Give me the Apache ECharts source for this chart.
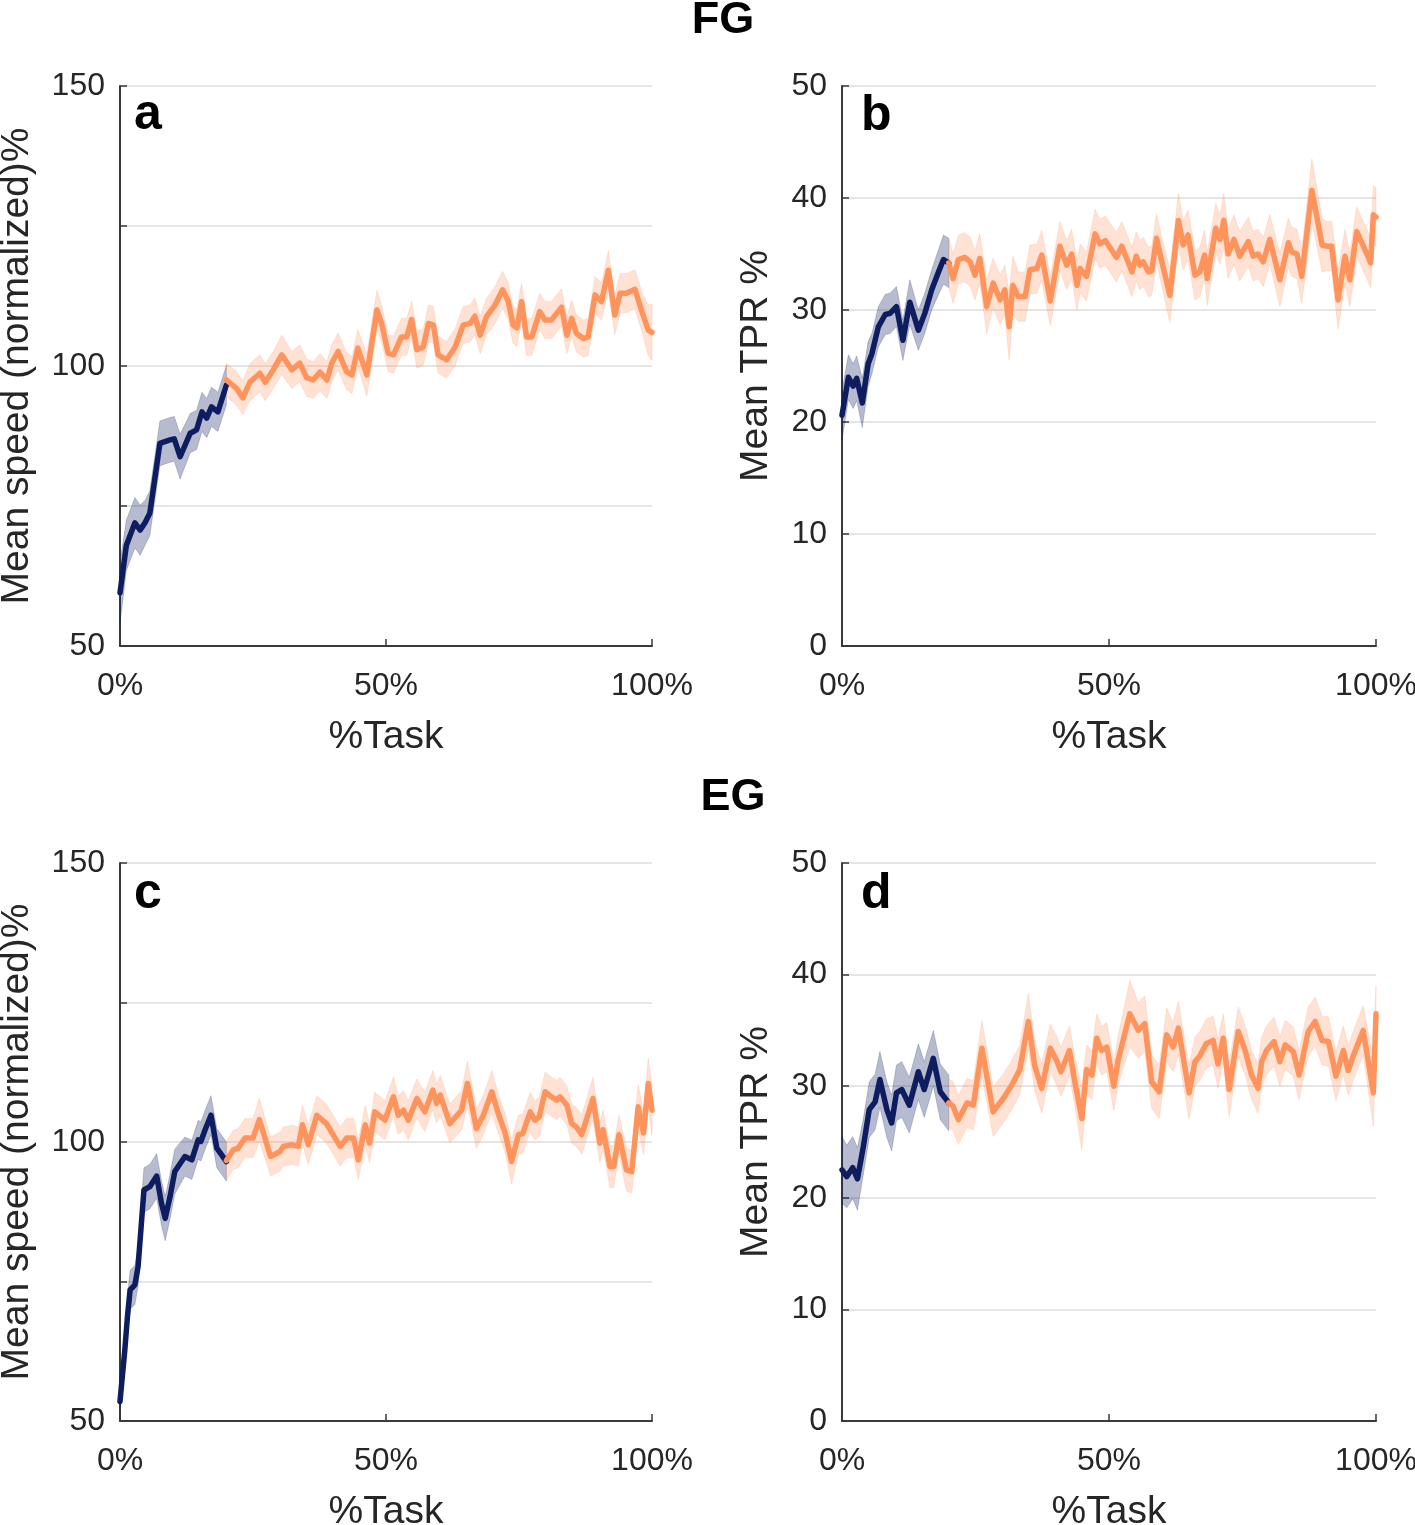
<!DOCTYPE html>
<html>
<head>
<meta charset="utf-8">
<script src="https://cdn.jsdelivr.net/npm/echarts/dist/echarts.min.js"></script>
<style>
    html, body { margin: 0; padding: 0; background: #fff; }
    #chart { width: 1415px; height: 1525px; }
</style>
</head>
<body>
<div id="chart"></div>
<script>
// ---- data (x = % of task, y = mean, s = half width of shaded band) ----
// panel a : FG, mean speed
const aDarkX = [0, 1.2, 2.8, 3.8, 4.7, 5.6, 7.5, 9.4, 10.2, 11.3, 13.2, 14.4, 15.4, 16.3, 17.2, 18.4, 20];
const aDarkY = [59.5, 68, 72, 70.7, 72, 73.7, 86.2, 86.8, 87, 83.8, 88, 88.6, 91.8, 90.7, 92.7, 91.8, 96.6];
const aDarkS = [5.5, 4.5, 4.5, 4.5, 4, 4, 4, 4, 4, 4, 3.5, 3.5, 3.5, 3.5, 3.5, 3.5, 3.5];
const aOrangeX = [20, 21.9, 23.1, 24.4, 26.3, 27.3, 28.8, 30.4, 32.3, 33.8, 35.1, 36.3, 37.6, 38.9, 39.8, 41, 42.6, 43.6, 44.7, 46.4,
    48.3, 49.2, 50.4, 51.4, 52.9, 53.9, 54.8, 55.8, 57, 58, 58.9, 59.8, 61.4, 63, 64.5, 65.8, 66.7, 67.7, 68.9, 70.5,
    71.9, 73, 73.9, 74.6, 75.5, 76.4, 77.4, 78.9, 79.9, 81.1, 83, 84, 84.9, 85.8, 87.1, 88, 89.3, 90.5, 91.8, 93,
    94, 95.2, 96.8, 98.1, 99.3, 100];
const aOrangeY = [97.5, 96, 94.3, 97.1, 98.7, 97.1, 99.3, 102, 99.3, 100.5, 97.9, 97.5, 98.9, 97.5, 100.5, 102.6, 99, 98.4, 103.2, 98.4,
    110, 107.5, 102.3, 102, 105.2, 105.2, 108.3, 102.9, 103.4, 107.6, 107.3, 102, 101.1, 103.4, 107.3, 107.6, 108.9, 105.5, 108.8, 110.9,
    113.6, 111.5, 107.3, 106.8, 111.5, 105.2, 105.2, 109.7, 108.2, 108.2, 110.5, 105.5, 108.5, 105.8, 104.9, 105.2, 112.7, 111.5, 117.1, 109.1,
    113, 113, 113.7, 109.7, 106.4, 106];
const aOrangeS = [3, 3, 3, 3.3, 3.3, 3.3, 3.3, 3.5, 3.3, 3.3, 3.3, 3.3, 3.3, 3.3, 3.3, 3.3, 3.3, 3.3, 3.3, 3.8,
    3.5, 3.3, 3.3, 3.3, 3.3, 3.3, 3.3, 3.3, 3.3, 3.3, 3.3, 3.3, 3.3, 3.3, 3.3, 3.3, 3.3, 3.3, 3.3, 3.3,
    3.3, 3.3, 3.3, 3.3, 3.3, 3.3, 3.3, 3.3, 3.3, 3.3, 3.3, 3.3, 3.3, 3.3, 3.3, 3.3, 3.3, 3.3, 3.5, 3.5,
    3.5, 3.5, 3.5, 3.5, 4.5, 5];

// panel b : FG, mean TPR
const bDarkX = [0, 1.2, 2.1, 2.75, 3.8, 4.9, 5.6, 6.8, 8.1, 9, 10.2, 11.4, 12.7, 14.3, 15.5, 16.8, 18, 19, 20];
const bDarkY = [20.6, 24, 23.2, 23.9, 21.7, 25.2, 26.1, 28.5, 29.6, 29.7, 30.3, 27.3, 30.7, 28.2, 29.7, 31.8, 33.3, 34.5, 34.2];
const bDarkS = [2.2, 2, 2, 2, 2.2, 2, 1.8, 1.8, 1.8, 1.8, 1.8, 1.8, 2, 1.8, 1.8, 1.8, 2, 2.2, 2.2];
const bOrangeX = [20, 20.8, 21.8, 23, 24, 24.9, 25.8, 27.1, 28.3, 29.6, 30.5, 31.3, 32, 33, 34.3, 35.2, 36.5, 37.4, 39, 40.8,
    42.1, 43, 44, 44.6, 45.8, 47.4, 48.3, 49.3, 51.4, 52.4, 54.3, 55.1, 55.8, 56.4, 57.4, 58, 58.9, 59.9, 61.4, 63,
    63.9, 64.8, 66.1, 67, 67.9, 68.4, 70, 70.8, 71.5, 72.3, 73.4, 74.5, 76.1, 77, 77.9, 78.9, 80.1, 82, 83.6, 84.2,
    85.2, 86.1, 88, 89.9, 90.8, 91.7, 92.9, 94.2, 95.1, 96.4, 98.3, 99, 99.5, 100];
const bOrangeY = [34.2, 32.8, 34.5, 34.7, 34.3, 33.1, 34.6, 30.3, 32.4, 30.9, 31.8, 28.5, 32.2, 31.2, 31.2, 33.6, 33.7, 34.9, 30.8, 35.7,
    34, 35, 32.2, 33.7, 33, 36.8, 35.9, 36.2, 34.7, 35.7, 33.4, 34.8, 34, 34.3, 33.4, 33.5, 36.4, 34.3, 31.3, 38,
    35.8, 36.7, 33.1, 33.4, 34.9, 32.8, 37.3, 36.3, 38, 35, 36.3, 34.8, 36.1, 34.8, 35, 34.3, 36.3, 32.7, 36, 35.2,
    35, 33, 40.7, 35.8, 35.7, 35.7, 30.9, 34.8, 32.7, 37, 35, 34.2, 38.5, 38.3];
const bOrangeS = [2.2, 2.2, 2.2, 2.2, 2.2, 2.2, 2.2, 2.4, 2.2, 2.2, 2.2, 3, 2.6, 2.2, 2.2, 2.2, 2.2, 2.2, 2.2, 2.2,
    2.2, 2.2, 2.2, 2.2, 2.2, 2.2, 2.2, 2.2, 2.2, 2.2, 2.2, 2.2, 2.2, 2.2, 2.2, 2.2, 2.2, 2.2, 2.4, 2.4,
    2.2, 2.2, 2.2, 2.2, 2.2, 2.4, 2.2, 2.2, 2.4, 2.2, 2.2, 2.2, 2.2, 2.2, 2.2, 2.2, 2.2, 2.4, 2.2, 2.2,
    2.2, 2.4, 2.8, 2.4, 2.2, 2.2, 2.6, 2.4, 2.4, 2.2, 2.2, 2.2, 2.6, 2.6];

// panel c : EG, mean speed
const cDarkX = [0, 0.9, 1.4, 1.9, 2.8, 3.4, 4.5, 5.6, 6.9, 7.8, 8.5, 9.4, 10.3, 12.2, 13.5, 14.7, 15.2, 16, 17.1, 18.2, 20];
const cDarkY = [53.5, 62.7, 68.7, 73.5, 74.4, 77.7, 91.4, 92, 93.9, 89, 86.3, 90.2, 94.7, 97.4, 96.8, 100.4, 100.1, 102.2, 104.8, 98.9, 96.5];
const cDarkS = [1.5, 3, 3.5, 3.5, 3.5, 3.5, 4, 4, 4, 4, 4, 4, 4, 3.5, 3.5, 3.5, 3.5, 3.5, 3.5, 3.5, 3.5];
const cOrangeX = [20, 21.3, 22.2, 23.5, 25, 26.2, 28.3, 30.1, 30.7, 32.3, 33.5, 34.3, 35.4, 37, 38.8, 41.4, 42.6, 43.9, 44.8, 46.1,
    46.9, 47.9, 49.8, 51.4, 52.3, 53.3, 54.2, 55.8, 57.3, 58.8, 59.5, 60.2, 62, 64.2, 65.3, 67, 68.3, 69.9, 71.1, 72.4,
    73.6, 74.9, 75.7, 77.1, 78, 78.8, 79.9, 81.1, 82.1, 82.7, 84, 84.9, 85.8, 86.8, 88.9, 90.2, 90.8, 92.1, 92.8, 93.8,
    95.2, 96.2, 97.4, 98.4, 99.3, 100];
const cOrangeY = [96.7, 98.6, 98.9, 100.7, 100.7, 104, 97.4, 98.3, 99.2, 99.5, 99.2, 103.1, 99.5, 104.8, 103.3, 99.2, 100.7, 100.7, 96.8, 103.1,
    99.8, 105.4, 103.9, 108.1, 104.8, 105.7, 103.9, 107.8, 105.4, 109.3, 106.9, 108.4, 103.3, 105.7, 110.5, 102.4, 104.8, 109, 105.1, 101.6,
    96.5, 101.3, 101.5, 105.4, 103.9, 104.5, 109, 108.1, 107.5, 108.1, 106.6, 103.3, 102.7, 101.3, 107.8, 99.8, 102.2, 95.6, 95.6, 101.3,
    95, 94.7, 106.3, 101.6, 110.5, 105.7];
const cOrangeS = [3.5, 3.5, 3.5, 3.5, 3.5, 3.8, 3.5, 3.5, 3.5, 3.5, 3.5, 3.5, 3.5, 3.5, 3.5, 3.5, 3.5, 3.5, 3.5, 3.5,
    3.5, 3.5, 3.5, 3.5, 3.5, 3.5, 3.5, 3.5, 3.5, 3.5, 3.5, 3.5, 3.5, 3.5, 4, 3.5, 3.5, 3.8, 3.5, 3.5,
    4, 3.5, 3.5, 3.5, 3.5, 3.5, 3.5, 3.5, 3.5, 3.5, 3.5, 3.5, 3.5, 3.5, 3.8, 3.5, 3.5, 3.8, 3.8, 3.5,
    3.8, 3.8, 4, 3.8, 4.5, 4.5];

// panel d : EG, mean TPR
const dDarkX = [0, 0.9, 2, 2.9, 4, 5.1, 6.2, 7.1, 8.4, 9.3, 10.2, 11.2, 12.6, 14.3, 15.4, 17.1, 18.4, 20];
const dDarkY = [22.5, 21.9, 22.7, 21.7, 24.6, 27.9, 28.6, 30.6, 27.9, 26.7, 29.4, 29.7, 28.3, 31.3, 29.7, 32.5, 29.5, 28.5];
const dDarkS = [3, 2.8, 2.8, 2.8, 2.5, 2.5, 2.5, 2.5, 2.5, 2.5, 2.5, 2.5, 2.5, 2.5, 2.5, 2.5, 2.5, 2.5];
const dOrangeX = [20, 20.8, 21.8, 23.4, 24.6, 26.2, 28.3, 30.2, 31.8, 33.3, 34.9, 36.1, 37.4, 39, 40.2, 41, 42.6, 43.6, 44.9, 45.8,
    46.8, 47.7, 48.6, 49.6, 50.9, 51.7, 53.9, 55.5, 56.7, 58, 59.4, 60.8, 62, 63, 65, 66.1, 67, 68.2, 69.5, 70.4,
    71.4, 72.5, 74.2, 75.5, 76.7, 77.9, 78.6, 79.5, 80.9, 82, 83, 84.5, 85.6, 87.3, 88.6, 89.9, 91.1, 92.5, 93.9, 94.8,
    95.8, 97.6, 99.5, 100];
const dOrangeY = [28.5, 28.2, 27, 28.5, 28.3, 33.4, 27.7, 28.9, 30.1, 31.5, 35.8, 31.8, 29.8, 33.4, 32.3, 31.3, 33.2, 30.4, 27.1, 31.5,
    31, 34.3, 33.2, 33.5, 30, 32.3, 36.5, 35, 35.6, 30.4, 29.5, 34.6, 33.5, 35.2, 29.4, 32.2, 32.7, 33.8, 34.1, 32,
    34.3, 29.7, 34.9, 33.2, 31, 29.8, 32.2, 33.2, 34, 32.2, 33.7, 33.1, 31, 34.9, 35.8, 34.1, 34, 30.9, 33.2, 31.4,
    32.8, 35, 29.4, 36.5];
const dOrangeS = [2.2, 2.2, 2.2, 2.2, 2.2, 2.5, 2.2, 2.2, 2.2, 2.2, 2.5, 2.2, 2.2, 2.2, 2.2, 2.2, 2.2, 2.2, 2.8, 2.2,
    2.2, 2.2, 2.2, 2.2, 2.2, 2.2, 3, 2.5, 2.5, 2.4, 2.4, 2.4, 2.2, 2.4, 2.4, 2.2, 2.2, 2.2, 2.2, 2.2,
    2.2, 2.4, 2.2, 2.2, 2.2, 2.2, 2.2, 2.2, 2.2, 2.2, 2.2, 2.2, 2.2, 2.2, 2.2, 2.2, 2.2, 2.2, 2.2, 2.2,
    2.2, 2.2, 3, 2.5];

const speedTicks = [50, 100, 150];   // labelled ticks on the speed axes

// ---- style ----
const FONT = '"Liberation Sans", Arial, Helvetica, sans-serif';
const NAVY = '#0e1d5f';
const NAVY_BAND = 'rgba(14,29,95,0.3)';
const ORANGE = '#ff935c';
const ORANGE_BAND = 'rgba(255,150,100,0.28)';
const TEXT = '#262626';
const AXIS = '#3a3a3a';

const panels = [
    { grid: { left: 120, top: 86, width: 532, height: 560 }, min: 50, max: 150, interval: 25,
      name: 'Mean speed (normalized)%', nameGap: 83, speed: true,
      dark: [aDarkX, aDarkY, aDarkS], orange: [aOrangeX, aOrangeY, aOrangeS] },
    { grid: { left: 842, top: 86, width: 534, height: 560 }, min: 0, max: 50, interval: 10,
      name: 'Mean TPR %', nameGap: 66, speed: false,
      dark: [bDarkX, bDarkY, bDarkS], orange: [bOrangeX, bOrangeY, bOrangeS] },
    { grid: { left: 120, top: 863, width: 532, height: 558 }, min: 50, max: 150, interval: 25,
      name: 'Mean speed (normalized)%', nameGap: 83, speed: true,
      dark: [cDarkX, cDarkY, cDarkS], orange: [cOrangeX, cOrangeY, cOrangeS] },
    { grid: { left: 842, top: 863, width: 534, height: 558 }, min: 0, max: 50, interval: 10,
      name: 'Mean TPR %', nameGap: 66, speed: false,
      dark: [dDarkX, dDarkY, dDarkS], orange: [dOrangeX, dOrangeY, dOrangeS] },
];

function pairs (xs, ys) {
    return xs.map((x, i) => [x, ys[i]]);
}

// shaded band between mean - s and mean + s, drawn through the axis scales
function bandSeries (idx, d, fill, edge) {
    const xs = d[0], ys = d[1], ss = d[2];
    return {
        type: 'custom',
        xAxisIndex: idx,
        yAxisIndex: idx,
        silent: true,
        z: 1,
        data: [[xs[0], ys[0]]],
        renderItem: function (params, api) {
            const pts = [];
            for (let i = 0; i < xs.length; i++) pts.push(api.coord([xs[i], ys[i] + ss[i]]));
            for (let i = xs.length - 1; i >= 0; i--) pts.push(api.coord([xs[i], ys[i] - ss[i]]));
            return { type: 'polygon', shape: { points: pts }, style: { fill: fill, stroke: edge, lineWidth: 1 } };
        },
    };
}

function lineSeries (idx, d, color) {
    return {
        type: 'line',
        xAxisIndex: idx,
        yAxisIndex: idx,
        data: pairs(d[0], d[1]),
        showSymbol: false,
        silent: true,
        z: 3,
        lineStyle: { color: color, width: 5.5, join: 'round', cap: 'round' },
    };
}

const grids = [], xAxes = [], yAxes = [], series = [];
panels.forEach((p, i) => {
    grids.push(Object.assign({ containLabel: false, outerBoundsMode: 'none' }, p.grid));
    xAxes.push({
        type: 'value', gridIndex: i, min: 0, max: 100, interval: 50,
        name: '%Task', nameLocation: 'middle', nameGap: 72,
        nameTextStyle: { fontFamily: FONT, fontSize: 39, color: TEXT },
        axisLine: { lineStyle: { color: AXIS, width: 2 } },
        axisTick: { inside: true, length: 7, lineStyle: { color: AXIS, width: 1.5 } },
        axisLabel: { formatter: '{value}%', fontFamily: FONT, fontSize: 32, color: TEXT, margin: 24, showMaxLabel: true, showMinLabel: true },
        splitLine: { show: false },
    });
    yAxes.push({
        type: 'value', gridIndex: i, min: p.min, max: p.max, interval: p.interval,
        name: p.name, nameLocation: 'middle', nameGap: p.nameGap,
        nameTextStyle: { fontFamily: FONT, fontSize: 39, color: TEXT },
        axisLine: { show: true, lineStyle: { color: AXIS, width: 2 } },
        axisTick: { show: true, inside: true, length: 7, lineStyle: { color: AXIS, width: 1.5 } },
        axisLabel: {
            fontFamily: FONT, fontSize: 32, color: TEXT, margin: 15,
            formatter: v => (!p.speed || speedTicks.includes(v)) ? String(v) : '',
        },
        splitLine: { show: true, lineStyle: { color: '#dcdcdc', width: 1.5 } },
    });
    series.push(bandSeries(i, p.dark, NAVY_BAND, 'rgba(14,29,95,0.2)'));
    series.push(bandSeries(i, p.orange, ORANGE_BAND, 'rgba(255,150,100,0.2)'));
    series.push(lineSeries(i, p.dark, NAVY));
    series.push(lineSeries(i, p.orange, ORANGE));
});

function label (text, x, y, size, align) {
    return {
        type: 'text', x: x, y: y, silent: true,
        style: { text: text, fontFamily: FONT, fontWeight: 'bold', fontSize: size, fill: '#000',
                 align: align, verticalAlign: 'middle' },
    };
}

const myChart = echarts.init(document.getElementById('chart'), null, { renderer: 'canvas' });
myChart.setOption({
    animation: false,
    backgroundColor: '#fff',
    grid: grids,
    xAxis: xAxes,
    yAxis: yAxes,
    series: series,
    graphic: [
        label('FG', 723, 21, 45, 'center'),
        label('EG', 733, 798, 45, 'center'),
        label('a', 134, 115, 50, 'left'),
        label('b', 861, 116, 50, 'left'),
        label('c', 134, 894, 50, 'left'),
        label('d', 861, 894, 50, 'left'),
    ],
});
window.onresize = myChart.resize;
</script>
</body>
</html>
